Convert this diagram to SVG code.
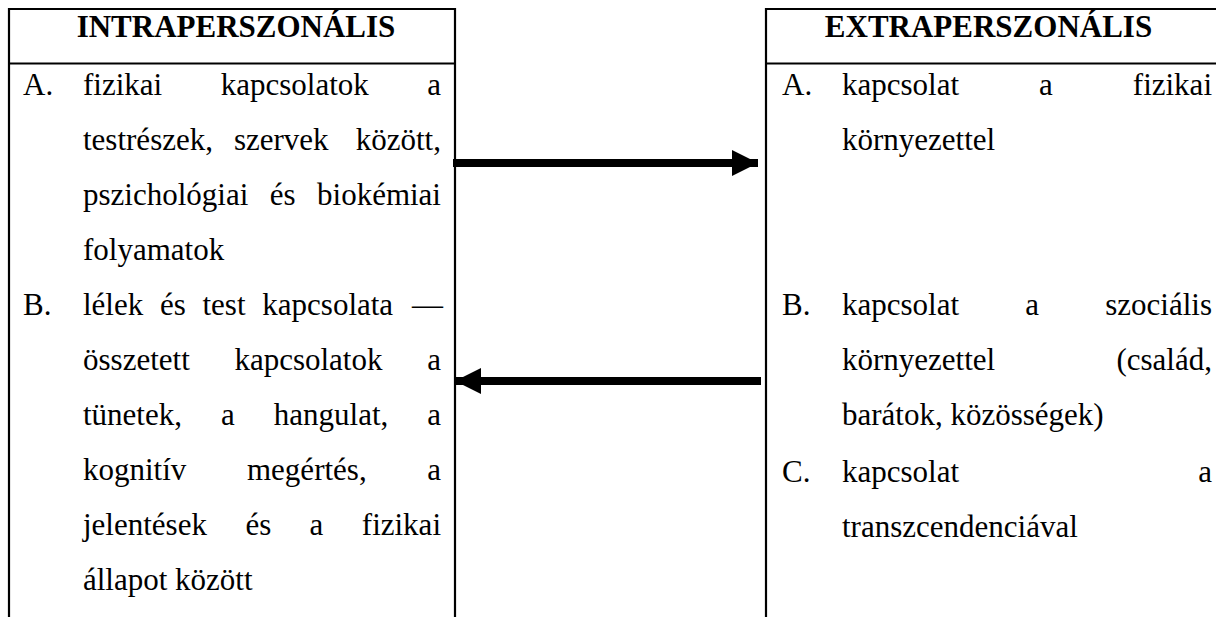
<svg xmlns="http://www.w3.org/2000/svg" width="1216" height="617" viewBox="0 0 1216 617">
<style>
.t{font-family:"Liberation Serif","Times New Roman",serif;font-size:31px;fill:#000}
.h{font-family:"Liberation Serif","Times New Roman",serif;font-size:31px;font-weight:bold;fill:#000;text-anchor:middle}
.e{text-anchor:end}
.b{fill:none;stroke:#000;stroke-width:2.2}
.c{stroke:#000;stroke-width:8;fill:none}
</style>
<defs>
<marker id="ah" markerUnits="userSpaceOnUse" markerWidth="26" markerHeight="26" viewBox="0 0 24 24" refX="24" refY="12" orient="auto">
<path d="M0,0 L24,12 L0,24 Z" fill="#000"/>
</marker>
</defs>
<rect width="1216" height="617" fill="#fff"/>
<g id="intra">
<path class="b" d="M9,617 V9 H455 V617 M9,63.5 H455"/>
<text class="h" x="236" y="37">INTRAPERSZONÁLIS</text>
<text class="t" y="95"><tspan x="23">A.</tspan><tspan x="83">fizikai</tspan><tspan x="220.7">kapcsolatok</tspan><tspan x="441" class="e" text-anchor="end">a</tspan></text>
<text class="t" y="150"><tspan x="83">testrészek,</tspan><tspan x="233.9">szervek</tspan></text>
<text class="t e" x="441" y="150">között,</text>
<text class="t" y="205"><tspan x="83">pszichológiai</tspan><tspan x="269.7">és</tspan></text>
<text class="t e" x="441" y="205">biokémiai</text>
<text class="t" x="83" y="260">folyamatok</text>
<text class="t" y="315"><tspan x="23">B.</tspan><tspan x="83">lélek</tspan><tspan x="160">és</tspan><tspan x="202.5">test</tspan><tspan x="262.3">kapcsolata</tspan></text>
<text class="t e" x="443" y="315">—</text>
<text class="t" y="370"><tspan x="83">összetett</tspan><tspan x="234.4">kapcsolatok</tspan></text>
<text class="t e" x="441" y="370">a</text>
<text class="t" y="425"><tspan x="83">tünetek,</tspan><tspan x="221">a</tspan><tspan x="273.8">hangulat,</tspan></text>
<text class="t e" x="441" y="425">a</text>
<text class="t" y="480"><tspan x="83">kognitív</tspan><tspan x="247">megértés,</tspan></text>
<text class="t e" x="441" y="480">a</text>
<text class="t" y="535"><tspan x="83">jelentések</tspan><tspan x="245.4">és</tspan><tspan x="309.6">a</tspan></text>
<text class="t e" x="441" y="535">fizikai</text>
<text class="t" x="83" y="590">állapot között</text>
</g>
<g id="extra">
<path class="b" d="M1220,9 H766 V617 M766,63.5 H1220"/>
<text class="h" x="988.5" y="37">EXTRAPERSZONÁLIS</text>
<text class="t" y="95"><tspan x="782">A.</tspan><tspan x="842">kapcsolat</tspan><tspan x="1039">a</tspan></text>
<text class="t e" x="1212" y="95">fizikai</text>
<text class="t" x="842" y="150">környezettel</text>
<text class="t" y="315"><tspan x="782">B.</tspan><tspan x="842">kapcsolat</tspan><tspan x="1025.3">a</tspan></text>
<text class="t e" x="1212" y="315">szociális</text>
<text class="t" x="842" y="370">környezettel</text>
<text class="t e" x="1212" y="370">(család,</text>
<text class="t" x="842" y="425">barátok, közösségek)</text>
<text class="t" y="482"><tspan x="782">C.</tspan><tspan x="842">kapcsolat</tspan></text>
<text class="t e" x="1212" y="482">a</text>
<text class="t" x="842" y="537">transzcendenciával</text>
</g>
<g id="connectors">
<line class="c" x1="453" y1="163" x2="758" y2="163" marker-end="url(#ah)"/>
<line class="c" x1="761" y1="381" x2="455" y2="381" marker-end="url(#ah)"/>
</g>
</svg>
